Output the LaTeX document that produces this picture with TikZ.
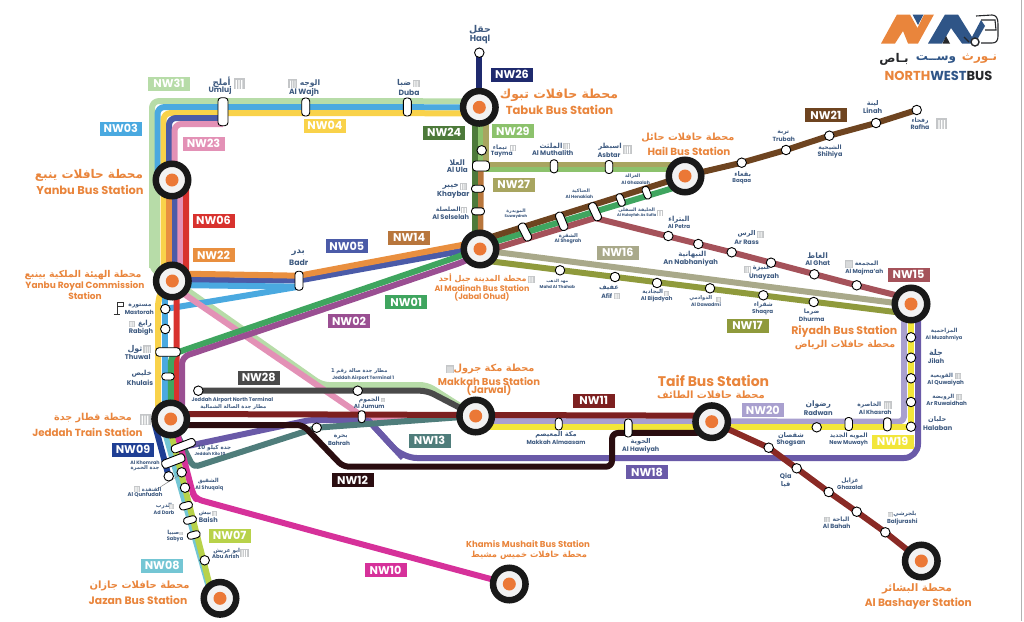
\documentclass[tikz,border=0pt]{standalone}
\usepackage{fontspec}
\setmainfont{Poppins}
\newfontfamily\arfont[Script=Arabic]{DejaVu Sans}
\TeXXeTstate=1
\usetikzlibrary{calc,backgrounds}
\definecolor{c31}{HTML}{B7DCA8}\definecolor{c03}{HTML}{4AA9E0}\definecolor{c04}{HTML}{F9D24A}
\definecolor{c05}{HTML}{4B5BA8}\definecolor{c23}{HTML}{E391B6}\definecolor{c06}{HTML}{D8322E}
\definecolor{c22}{HTML}{E98F3F}\definecolor{c14}{HTML}{B8763C}\definecolor{c24}{HTML}{4D7A3A}
\definecolor{c29}{HTML}{8CC26C}\definecolor{c27}{HTML}{A8A560}\definecolor{c26}{HTML}{1F2A6E}
\definecolor{c01}{HTML}{3FA55F}\definecolor{c02}{HTML}{9A4F92}\definecolor{c16}{HTML}{A9A98A}
\definecolor{c17}{HTML}{8F9A3C}\definecolor{c15}{HTML}{A5525A}\definecolor{c21}{HTML}{6E4420}
\definecolor{c28}{HTML}{4A4A4A}\definecolor{c11}{HTML}{7D2020}\definecolor{c13}{HTML}{4F7D7B}
\definecolor{c12}{HTML}{2A0D10}\definecolor{c18}{HTML}{6A5AA8}\definecolor{c20}{HTML}{A9A0CF}
\definecolor{c19}{HTML}{F2E63A}\definecolor{c09}{HTML}{1F3F94}\definecolor{c07}{HTML}{B8D24A}
\definecolor{c08}{HTML}{74C6D4}\definecolor{c10}{HTML}{D6319A}\definecolor{cbash}{HTML}{8A2A25}
\definecolor{tnavy}{HTML}{3E5A80}\definecolor{torange}{HTML}{E9853C}\definecolor{iconc}{HTML}{C4C6C8}
\definecolor{ldark}{HTML}{26282B}\definecolor{lblue}{HTML}{2F5587}
\tikzset{
  rl/.style={line width=6pt,line cap=butt,line join=round,rounded corners=7pt},
  hubring/.style={circle,draw=black!90,line width=6.5pt,fill=black!5,minimum size=32.5pt,inner sep=0pt},
  hubdot/.style={circle,fill=torange!90!red,minimum size=13pt,inner sep=0pt},
  stopc/.style={circle,draw=black,fill=white,line width=.9pt,minimum size=9.5pt,inner sep=0pt},
  pillc/.style={rectangle,draw=black,fill=white,line width=.9pt,rounded corners=3.2pt,inner sep=0pt},
  badge/.style={rectangle,minimum width=42pt,minimum height=14pt,inner sep=0pt,text=white,font=\fontsize{11.2}{11.2}\selectfont\bfseries},
}
\newcounter{txtc}
\newcommand\NavyT[4]{\stepcounter{txtc}\node[inner sep=0pt,text=tnavy,font=\fontsize{#3}{#3}\selectfont\bfseries] (t\thetxtc) at (#1,#2) {#4};}
\newcommand\NavyA[4]{\stepcounter{txtc}\node[inner sep=0pt,text=tnavy,font=\arfont\fontsize{#3}{#3}\selectfont\bfseries] (t\thetxtc) at (#1,#2) {#4};}
\newcommand\OrT[4]{\stepcounter{txtc}\node[inner sep=0pt,text=torange,font=\fontsize{#3}{#3}\selectfont\bfseries] (t\thetxtc) at (#1,#2) {#4};}
\newcommand\OrA[4]{\stepcounter{txtc}\node[inner sep=0pt,text=torange,font=\arfont\fontsize{#3}{#3}\selectfont\bfseries] (t\thetxtc) at (#1,#2) {#4};}
\newcommand\hub[3]{\node[hubring] (#1) at (#2,#3) {};\node[hubdot] (#1-dot) at (#2,#3) {};}
\newcommand\stp[3]{\node[stopc] (#1) at (#2,#3) {};}
\newcommand\pill[6]{\node[pillc,minimum width=#4pt,minimum height=#5pt,rotate=#6] (#1) at (#2,#3) {};}
\newcommand\bdg[4]{\node[badge,fill=#1] (b#2) at (#3,#4) {NW#2};}
\newcommand\bld[3]{\begin{scope}[shift={(#1,#2)},scale=#3]
  \fill[iconc] (-.5,-.45) rectangle (.5,.5);
  \fill[white] (-.3,-.3) rectangle (-.2,.5) (-.05,-.3) rectangle (.05,.5) (.2,-.3) rectangle (.3,.5);
\end{scope}}
\begin{document}
\begin{tikzpicture}[x=1pt,y=-1pt]
\useasboundingbox (0,0) rectangle (1024,621);
\fill[black!30] (1021,0) rectangle (1022,621);
% ---- hubs
\hub{tabuk}{479.3}{107.3}
\hub{yanbu}{172}{180}
\hub{royal}{172.3}{281}
\hub{madinah}{480}{249}
\hub{hail}{685}{176}
\hub{riyadh}{911}{304}
\hub{taif}{711.7}{421.7}
\hub{makkah}{475.7}{416}
\hub{jeddah}{170.7}{419}
\hub{jazan}{220}{598.3}
\hub{khamis}{509.3}{584}
\hub{bashayer}{921.3}{561}
% ---- stops
\stp{haql}{479.3}{52.7}
\stp{tayma}{481.7}{150.3}
\stp{baqaa}{741.7}{162.7}
\stp{trubah}{786}{150}
\stp{shihiya}{829.3}{135.7}
\stp{linah}{876}{123}
\stp{rafha}{916.7}{110}
\stp{petra}{668.3}{236}
\stp{nabh}{698.3}{244}
\stp{rass}{731.7}{252.3}
\stp{unayzah}{771}{262.7}
\stp{ghat}{814.3}{274.3}
\stp{majmaah}{856.7}{285.3}
\stp{mahd}{560}{270.3}
\stp{afif}{615}{277}
\stp{bijad}{657}{283}
\stp{dawadmi}{710}{288.3}
\stp{shaqra}{763.3}{295.3}
\stp{dhurma}{813.7}{302}
\stp{muzah}{911}{337.3}
\stp{jilah}{911}{357.7}
\stp{quwai}{911}{378.3}
\stp{ruwai}{911}{402}
\stp{halaban}{911}{426.7}
\stp{radwan}{816.7}{427.3}
\stp{shogsan}{768.7}{447.7}
\stp{qia}{796.7}{468.3}
\stp{ghazalal}{828.7}{492}
\stp{bahah}{856.7}{511.7}
\stp{baljur}{885.3}{532.3}
\stp{mastorah}{165.3}{309}
\stp{rabigh}{165.3}{329}
\stp{airportn}{198.3}{390.7}
\stp{airportone}{357.7}{390.7}
\stp{bahrah}{316.7}{427.7}
\stp{qunfa}{168.7}{476.3}
\stp{qunfb}{181.7}{472.3}
\stp{shuqaiq}{185}{487.7}
\stp{abuarish}{204.7}{560.3}
% ---- pills
\pill{umluj}{223}{111.7}{10}{28}{0}
\pill{wajh}{305.7}{107}{8}{18}{0}
\pill{duba}{407.3}{107}{8}{18}{0}
\pill{badr}{299}{280.7}{8}{19}{0}
\pill{ula}{481}{166}{17}{10}{0}
\pill{khaybar}{478}{188.7}{13}{7}{0}
\pill{selselah}{478}{211.3}{13}{7}{0}
\pill{muthalith}{554}{166.3}{7.5}{13}{0}
\pill{asbtar}{609}{167}{7.5}{13}{0}
\pill{suway}{525}{232}{19}{8}{-63}
\pill{shegrah}{561.7}{221.3}{19}{8}{-68}
\pill{hanak}{595}{211.7}{19}{8}{-65}
\pill{hulay}{620.7}{200}{13}{7}{-68}
\pill{ghaz}{646.7}{192.7}{13}{7}{-68}
\pill{maasam}{558.7}{424}{7}{12}{0}
\pill{hawiyah}{628.3}{428}{7.5}{18}{0}
\pill{jumum}{361.7}{416.7}{7}{12}{0}
\pill{muwayh}{848.7}{424}{7.5}{13}{0}
\pill{khasrah}{887.3}{424.3}{7.5}{13}{0}
\pill{thuwal}{168}{352}{24.5}{8.5}{0}
\pill{khulais}{168}{376.5}{12.5}{7}{0}
\pill{kilo}{183.3}{445.7}{25}{8}{21}
\pill{khomrah}{173.3}{461}{24}{8.5}{21}
\pill{darb}{186}{505.7}{13}{7}{15}
\pill{baish}{190}{520}{13}{7}{15}
\pill{sabya}{193.7}{535}{13}{7}{15}
% ---- lines
\begin{scope}[on background layer]
\draw[rl,c31] ($(tabuk)+(0,-6)$) -- (152,101) -- (152,270) -- (170,278) -- (322,385) -- (427,385) -- (makkah.center);
\draw[c31,line width=10.5pt] (154.5,186) -- (154.5,268);
\draw[rl,c03] ($(tabuk)+(0,0)$) -- (157.5,107) -- (157.5,180) -- (yanbu.center);
\draw[rl,c04] ($(tabuk)+(0,6)$) -- (163.5,113) -- (163.5,285) -- (158,300) -- (158,419) -- (jeddah.center);
\draw[rl,c03,rounded corners=0pt] ($(royal)+(-7,5)$) -- (165.3,419);
\draw[rl,c05] (umluj.center) ++(0,6.3) -- (169,118) -- (169,170) -- (175,190) -- (175,270) -- (172,280) -- (299,280.5) -- ($(madinah)+(-5,-.5)$);
\draw[rl,c22,rounded corners=0pt] ($(yanbu)+(-2.7,0)$) -- ($(royal)+(-3,0)$);
\draw[rl,c22,rounded corners=0pt] ($(royal)+(0,-7.5)$) -- ($(badr)+(0,-5)$) -- ($(madinah)+(-5,-6.5)$);
\draw[rl,c03,rounded corners=0pt] ($(royal)+(0,4)$) -- ($(badr)+(0,6)$);
\draw[rl,c03,rounded corners=0pt] (mastorah.center) -- ($(badr)+(0,6)$);
\draw[rl,c23] (umluj.center) ++(0,12.3) -- (174.5,124) -- (174.5,170) -- (180.3,190) -- (180.3,270) -- (172,285.7) -- (368,420) -- (makkah.center);
\draw[rl,c06,rounded corners=0pt] ($(yanbu)+(14,0)$) -- (186,270) -- (176.7,295) -- (176.7,419);
\draw[rl,c01] ($(jeddah)+(0,-3)$) -- (171,355) -- (180,351.5) -- (463,255) -- ($(madinah)+(0,-3)$);
\draw[rl,c02] (182,419) -- (182,357) -- (463,262) -- ($(madinah)+(0,4)$);
\draw[rl,c26] (haql.center) -- (tabuk.center);
\draw[rl,c24,rounded corners=0pt] ($(tabuk)+(-4.3,0)$) -- ($(madinah)+(-5,0)$);
\draw[rl,c29,rounded corners=0pt,line width=5.5pt] ($(tabuk)+(1.7,0)$) -- (481,169.5) -- ($(hail)+(0,-6.5)$);
\draw[rl,c27,rounded corners=0pt,line width=5.5pt] ($(tabuk)+(6.7,0)$) -- (486,164.5) -- ($(hail)+(0,-11.5)$);
\draw[rl,c14,rounded corners=0pt,line width=5.5pt] (ula.center) -- ($(madinah)+(.5,0)$);
\draw[rl,c16,rounded corners=0pt] ($(madinah)+(0,1)$) -- ($(riyadh)+(0,1)$);
\draw[rl,c17,rounded corners=0pt] ($(madinah)+(0,11)$) -- ($(riyadh)+(0,10)$);
\draw[rl,c01,rounded corners=0pt] ($(madinah)+(0,-2.8)$) -- ($(hail)+(0,8.5)$);
\draw[rl,c15,rounded corners=0pt] ($(madinah)+(0,4)$) -- (595,218) -- (rass.center) -- (majmaah.center) -- ($(riyadh)+(0,-5)$);
\draw[rl,c21,rounded corners=0pt] ($(madinah)+(0,-8.5)$) -- (hail.center) -- (baqaa.center) -- (trubah.center) -- (shihiya.center) -- (linah.center) -- (rafha.center);
\draw[rl,c20,rounded corners=5pt] ($(makkah)+(0,5)$) -- (904,421.7) -- ($(riyadh)+(-7,0)$);
\draw[rl,c19,rounded corners=0pt] ($(makkah)+(0,11)$) -- (911,427) -- (riyadh.center);
\draw[rl,c18,rounded corners=5pt] ($(jeddah)+(5,13)$) -- (183,447) -- (310,420) -- (368,420) -- (403,458);
\draw[rl,c18,rounded corners=14pt] (368,420) -- (403,458) -- (918,458) -- ($(riyadh)+(7,0)$);
\draw[rl,c13,rounded corners=5pt] ($(jeddah)+(5,13)$) -- (193.3,467.3) -- (bahrah.center) -- (makkah.center);
\draw[rl,c11,rounded corners=0pt] ($(jeddah)+(0,-5)$) -- ($(taif)+(0,-6)$);
\draw[rl,c12,rounded corners=6pt] ($(jeddah)+(0,6)$) -- (303,425) -- (343,466.7) -- (612,466.7) -- (612,433) -- ($(taif)+(0,11)$);
\draw[rl,c28,rounded corners=7pt] (airportn.center) -- (427,390.7) -- (makkah.center);
\draw[rl,cbash,rounded corners=0pt] (taif.center) -- (shogsan.center) -- (qia.center) -- (ghazalal.center) -- (bahah.center) -- (baljur.center) -- (bashayer.center);
\draw[rl,c09,rounded corners=0pt] ($(jeddah)+(-16,5)$) -- (qunfa.center);
\draw[rl,c08,rounded corners=0pt] ($(jeddah)+(-8,5)$) -- ($(jazan)+(-8,0)$);
\draw[rl,c07,rounded corners=0pt] ($(jeddah)+(-2,5)$) -- ($(jazan)+(-7,0)$);
\draw[rl,c10,rounded corners=6pt] ($(jeddah)+(4,5)$) -- (193,494) -- (196,499) -- (320,533) -- (khamis.center);
\draw[black!45,line width=.4pt] (156.7,489.3) -- (qunfa.south) (156.7,489.3) -- (qunfb.south west);
\end{scope}
% ---- badges
\bdg{c31}{31}{169}{83.5}\bdg{c03}{03}{120.8}{128.7}\bdg{c04}{04}{325}{125.5}
\bdg{c23}{23}{203.5}{143.7}\bdg{c06}{06}{213.5}{220.5}\bdg{c22}{22}{213.5}{255.3}
\bdg{c05}{05}{346.8}{246.3}\bdg{c14}{14}{409.2}{237.8}\bdg{c24}{24}{444.2}{132.8}
\bdg{c29}{29}{512.8}{131}\bdg{c27}{27}{513.7}{184.7}\bdg{c26}{26}{512}{74.5}
\bdg{c01}{01}{406.2}{302}\bdg{c02}{02}{349}{321}\bdg{c16}{16}{617.8}{252.5}
\bdg{c17}{17}{747.5}{325.5}\bdg{c15}{15}{908.5}{274.5}\bdg{c21}{21}{825.8}{115}
\bdg{c28}{28}{258.7}{377.7}\bdg{c11}{11}{593.7}{400.7}\bdg{c13}{13}{429.5}{440.7}
\bdg{c12}{12}{352.5}{480}\bdg{c18}{18}{647}{472}\bdg{c20}{20}{762.8}{410}
\bdg{c19}{19}{892.5}{441.7}\bdg{c09}{09}{133}{449.5}\bdg{c07}{07}{229.7}{535.7}
\bdg{c08}{08}{162.2}{565.8}\bdg{c10}{10}{385.5}{570}
% ---- station titles
\OrA{559}{95}{12.5}{\beginR محطة حافلات تبوك\endR}\OrT{559.5}{110}{11.6}{Tabuk Bus Station}
\OrA{688}{138}{9.8}{\beginR محطة حافلات حائل\endR}\OrT{689}{151.7}{10.3}{Hail Bus Station}
\OrA{89}{175}{12}{\beginR محطة حافلات ينبع\endR}\OrT{90}{189.5}{11.4}{Yanbu Bus Station}
\OrA{83}{275}{9.4}{\beginR محطة الهيئة الملكية بينبع\endR}\OrT{85}{286}{9}{Yanbu Royal Commission}\OrT{85}{296}{9}{Station}
\OrA{482.7}{278.3}{8}{\beginR محطة المدينة جبل أحد\endR}\OrT{482}{288.3}{8}{Al Madinah Bus Station}\OrT{482}{296.5}{8}{(Jabal Ohud)}
\OrA{494}{369.3}{9.8}{\beginR محطة مكة جرول\endR}\OrT{489}{381.3}{10}{Makkah Bus Station}\OrT{489}{390}{10}{(Jarwal)}
\OrT{713.5}{381}{14}{Taif Bus Station}\OrA{711}{394.7}{10}{\beginR محطة حافلات الطائف\endR}
\OrT{844.3}{332}{11}{Riyadh Bus Station}\OrA{845}{345.3}{9.5}{\beginR محطة حافلات الرياض\endR}
\OrA{93}{418.5}{9.6}{\beginR محطة قطار جدة\endR}\OrT{87.5}{432}{10.3}{Jeddah Train Station}
\OrA{139.5}{585.7}{10}{\beginR محطة حافلات جازان\endR}\OrT{138}{600}{10.8}{Jazan Bus Station}
\OrT{528}{543.7}{8.6}{Khamis Mushait Bus Station}\OrA{529}{555}{8.4}{\beginR محطة حافلات خميس مشيط\endR}
\OrA{917}{589}{10.3}{\beginR محطة البشائر\endR}\OrT{918.3}{604}{10.6}{Al Bashayer Station}
% ---- small labels
\NavyA{480}{29.3}{9.4}{حقل}\NavyT{480}{39.3}{8.6}{Haql}
\NavyA{221.7}{82.3}{8.6}{أملج}\NavyT{220}{90.7}{7.6}{Umluj}
\NavyA{310}{83.3}{7.6}{الوجه}\NavyT{304}{92.7}{7.6}{Al Wajh}
\NavyA{404}{83.3}{8}{ضبا}\NavyT{409}{92.3}{7.6}{Duba}
\NavyA{298.3}{252.3}{8.6}{بدر}\NavyT{298.7}{262.3}{7.8}{Badr}
\NavyA{500}{147.3}{6}{تيماء}\NavyT{501.7}{154.3}{6}{Tayma}
\NavyA{457.3}{162.3}{7.6}{العلا}\NavyT{457.3}{170}{7.2}{Al Ula}
\NavyA{450.7}{186}{7.6}{خيبر}\NavyT{453.3}{194.3}{7.2}{Khaybar}
\NavyA{448.3}{209.3}{6}{الصلصلة}\NavyT{450.7}{216.7}{6.6}{Al Selselah}
\NavyA{551}{146}{7}{الملثث}\NavyT{552.7}{153.3}{6.6}{Al Muthalith}
\NavyA{610}{146.7}{7}{اسبطر}\NavyT{609}{155}{6.6}{Asbtar}
\NavyA{742.7}{174.7}{6.6}{بقعاء}\NavyT{741.7}{181.3}{5.5}{Baqaa}
\NavyA{783.3}{132.7}{6}{تربة}\NavyT{783.7}{139}{6}{Trubah}
\NavyA{830}{147.3}{6}{الشيحية}\NavyT{830}{154.3}{6.4}{Shihiya}
\NavyA{872.7}{103.7}{6.6}{لينة}\NavyT{872.7}{110.7}{6.8}{Linah}
\NavyA{920}{120.7}{6}{رفحاء}\NavyT{920}{127}{6.2}{Rafha}
\NavyA{632.7}{176.7}{4.7}{الغزالة}\NavyT{635.7}{183.3}{4.6}{Al Ghazalah}
\NavyA{581}{191}{4.7}{الحناكية}\NavyT{579.3}{196.7}{4.4}{Al Henakiah}
\NavyA{516}{211}{4.7}{المويدرة}\NavyT{516}{216.7}{3.8}{Suwaydrah}
\NavyA{568.3}{235.7}{5.2}{الشقرة}\NavyT{568}{241.3}{4.8}{Al Shegrah}
\NavyA{636.7}{210.3}{4.7}{\beginR الخليفة السفلى\endR}\NavyT{636.7}{215.5}{3.8}{Al Hulayfah As Sufla}
\NavyA{679}{219.3}{7}{البتراء}\NavyT{679}{226}{5.6}{Al Petra}
\NavyA{692.3}{254.7}{7}{النبهانية}\NavyT{690.7}{262.7}{6.8}{An Nabhaniyah}
\NavyA{746.7}{234}{6.6}{الرس}\NavyT{746.7}{242}{6.4}{Ar Rass}
\NavyA{761.7}{268.7}{6.6}{عنيزة}\NavyT{764}{277}{6.6}{Unayzah}
\NavyA{817.7}{255.3}{7.6}{الغاط}\NavyT{817.7}{263}{6.6}{Al Ghat}
\NavyA{866.7}{263.3}{6}{المجمعة}\NavyT{864.3}{271.7}{5.8}{Al Majma'ah}
\NavyA{557.3}{281.7}{4.2}{\beginR مهد الذهب\endR}\NavyT{557.3}{287.3}{4.2}{Mahd Al Thahab}
\NavyA{609}{288}{6.6}{عفيف}\NavyT{606.7}{295.7}{6.2}{Afif}
\NavyA{652.7}{292.3}{5.6}{البجادية}\NavyT{656.7}{299}{5.4}{Al Bijadyah}
\NavyA{700.7}{298.3}{5.2}{الدوادمي}\NavyT{706}{305}{4.8}{Al Dawadmi}
\NavyA{763.3}{305}{6}{شقراء}\NavyT{762.7}{311.7}{5.6}{Shaqra}
\NavyA{811.7}{312.3}{6}{ضرما}\NavyT{811.7}{319}{6}{Dhurma}
\NavyA{944.3}{331.3}{5.6}{المزاحمية}\NavyT{944}{337.7}{5}{Al Muzahmiya}
\NavyA{936}{353.3}{8}{جلة}\NavyT{936}{361}{6.4}{Jilah}
\NavyA{941.7}{375.7}{5.6}{القويعية}\NavyT{945.7}{382.7}{5.6}{Al Quwaiyah}
\NavyA{943.3}{396.7}{5.6}{الرويضة}\NavyT{946.7}{403.3}{5.6}{Ar Ruwaidhah}
\NavyA{937.3}{419.7}{6.6}{حلبان}\NavyT{937.7}{427.7}{6.6}{Halaban}
\NavyA{818.3}{404.7}{7.6}{رضوان}\NavyT{818.3}{412.7}{6.8}{Radwan}
\NavyA{869.3}{405}{6}{الخاصرة}\NavyT{875.3}{412.7}{5.8}{Al Khasrah}
\NavyA{848.7}{435.7}{6}{\beginR المويه الجديد\endR}\NavyT{848.7}{443.3}{5.6}{New Muwayh}
\NavyA{791}{436}{6.6}{شقصان}\NavyT{791}{443.3}{6.4}{Shogsan}
\NavyA{640.7}{441.7}{6.6}{الحوية}\NavyT{640.7}{450}{6.4}{Al Hawiyah}
\NavyA{556}{434.7}{6.6}{\beginR مكة المعيصم\endR}\NavyT{556}{442}{5.8}{Makkah Almaasam}
\NavyA{359.3}{371}{5.2}{\beginR مطار جدة صالة رقم \beginL 1\endL\endR}\NavyT{363.3}{378}{4.7}{Jeddah Airport Terminal 1}
\NavyA{369.3}{400}{6}{الجموم}\NavyT{369.3}{406.7}{5.8}{Al Jumum}
\NavyA{340.7}{436.7}{6}{بحرة}\NavyT{339}{443.7}{5.8}{Bahrah}
\NavyT{232.3}{399.7}{5.2}{Jeddah Airport North Terminal}\NavyA{233.3}{406.7}{5.2}{\beginR مطار جدة الصالة الشمالية\endR}
\NavyT{785.7}{476.7}{6.6}{Qia}\NavyA{785.7}{484.3}{6.6}{قيا}
\NavyA{850}{480.7}{6}{غزايل}\NavyT{850}{487.7}{5.6}{Ghazalal}
\NavyA{841}{519.3}{6}{الباحة}\NavyT{836.7}{526.7}{6}{Al Bahah}
\NavyA{905}{514.3}{5.6}{بلجرشي}\NavyT{902.3}{522}{5.8}{Baljurashi}
\NavyA{140}{305.7}{6}{مستورة}\NavyT{139.3}{312.7}{5.8}{Mastorah}
\NavyA{145}{323.7}{7}{رابغ}\NavyT{141}{331.3}{6.6}{Rabigh}
\NavyA{135}{349}{8}{ثول}\NavyT{137.7}{357.3}{6.8}{Thuwal}
\NavyA{141.7}{373.3}{7}{خليص}\NavyT{140}{382.3}{6.8}{Khulais}
\NavyA{214.3}{447.7}{5.6}{\beginR جدة كيلو \beginL 10\endL\endR}\NavyT{210}{453.7}{4.2}{Jeddah Kilo 10}
\NavyT{145}{462.3}{4.8}{Al Khomrah}\NavyA{145}{468.3}{5.2}{\beginR جدة الخمرة\endR}
\NavyA{151.7}{490}{5.2}{القنفذة}\NavyT{145}{495}{5.4}{Al Qunfudah}
\NavyA{208.3}{481}{5.6}{الشقيق}\NavyT{209.3}{487.7}{5}{Al Shuqaiq}
\NavyA{164}{506}{5.6}{الدرب}\NavyT{164}{512.7}{5}{Ad Darb}
\NavyA{205}{513.7}{5.6}{بيش}\NavyT{208.3}{520}{6.6}{Baish}
\NavyA{173.3}{533.3}{5.6}{صبيا}\NavyT{175}{539.3}{5}{Sabya}
\NavyA{226.7}{550.7}{5.6}{\beginR ابو عريش\endR}\NavyT{225.7}{556.7}{5.4}{Abu Arish}
% ---- building icons
\bld{239}{83.3}{11}\bld{292.7}{83.3}{9}\bld{416}{83.3}{7}\bld{513}{147.7}{6}
\bld{463.3}{186}{7}\bld{464}{210}{6}\bld{566.7}{145.7}{7}\bld{627.3}{149}{9}
\bld{941.7}{123.3}{11}\bld{660}{213}{6}\bld{760}{234}{7}\bld{747.7}{269}{7}
\bld{849}{263.7}{8}\bld{616.7}{295.7}{6}\bld{666.7}{293.3}{5}\bld{718.3}{299}{5}
\bld{958.3}{375.7}{6}\bld{959.3}{396.7}{6}\bld{887.7}{405}{8}\bld{383}{400}{4}
\bld{450}{369}{8}\bld{531}{279}{7}\bld{145}{419}{11}\bld{131.7}{323.7}{6}
\bld{147.3}{349}{8}\bld{827.3}{519.3}{6}\bld{890}{514.3}{5}\bld{136.7}{489}{6}
\bld{171.7}{506}{5}\bld{214.3}{513.3}{5}\bld{180.7}{533.3}{4}\bld{244.3}{552.7}{9}
% ---- flag at Mastorah
\draw[black!80,line width=.8pt] (113.5,314) -- (120,314) (117.3,314) -- (117.3,302) -- (123.5,302) -- (123.5,306.5) -- (117.3,306.5);
% ---- logo
\fill[torange] (881,43.5) -- (897,14.5) -- (910,14.5) -- (917.5,28) -- (924,14.5) -- (934,14.5) -- (918,43.5) -- (908,43.5) -- (903,31) -- (895,43.5) -- cycle;
\fill[lblue] (912.5,14.5) -- (923.5,14.5) -- (918,25) -- cycle;
\fill[lblue] (928,43.5) -- (945,14.5) -- (958,14.5) -- (972,37) -- (981,20) -- (985,26) -- (975,43.5) -- (962,43.5) -- (951,28) -- (942,43.5) -- cycle;
\fill[ldark] (942.5,43.5) -- (946,36) -- (950,43.5) -- cycle;
\draw[ldark,line width=1.1pt,line join=round] (976,16) -- (992,15) .. controls (996,15) and (998,18) .. (998,24) -- (998,36) .. controls (998,41) and (996,43) .. (992,43) -- (981,43);
\draw[ldark,line width=1.1pt] (964,37) -- (969,42);
\draw[ldark,line width=1.1pt] (981,20) -- (995,20) -- (996,30) -- (985,30);
\draw[ldark,line width=1.4pt,fill=white] (975,42) circle (4);
\node[inner sep=0pt,text=torange,font=\arfont\fontsize{12}{12}\selectfont\bfseries] (logoa) at (979.5,59) {نـورث};
\node[inner sep=0pt,text=lblue,font=\arfont\fontsize{12}{12}\selectfont\bfseries] (logob) at (936,59) {وســت};
\node[inner sep=0pt,text=ldark,font=\arfont\fontsize{12}{12}\selectfont\bfseries] (logoc) at (894,59) {بـاص};
\node[inner sep=0pt,font=\fontsize{13}{13}\selectfont\bfseries] (logoen) at (938.5,76) {\textcolor{torange}{NORTH}\textcolor{lblue}{WEST}\textcolor{ldark}{BUS}};
\end{tikzpicture}
\end{document}
